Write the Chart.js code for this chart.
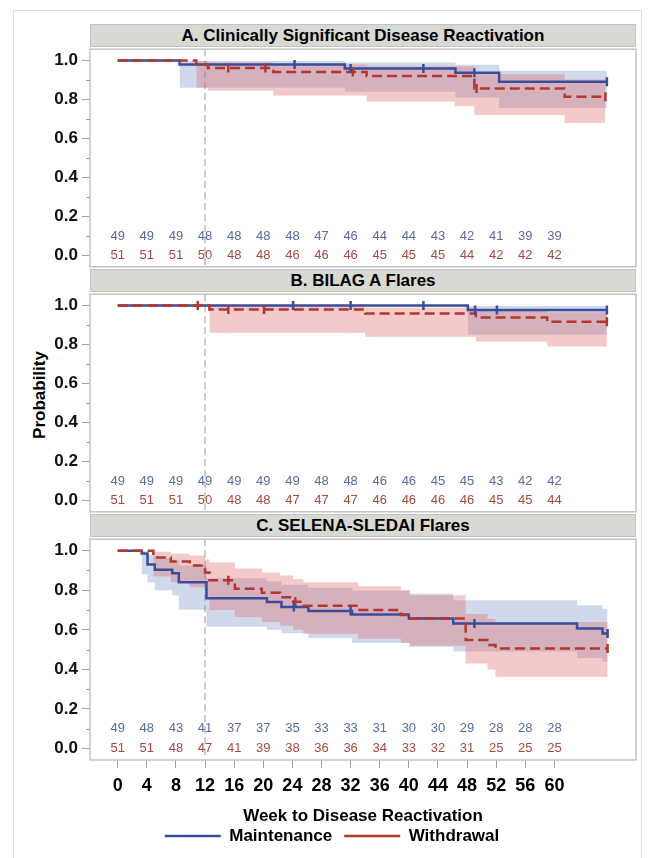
<!DOCTYPE html>
<html>
<head>
<meta charset="utf-8">
<script src="https://cdn.jsdelivr.net/npm/chart.js@4.4.1/dist/chart.umd.min.js"></script>
<style>
  body { margin: 0; background: #fff; font-family: "Liberation Sans", Arial, sans-serif; }
  #wrap { position: relative; width: 652px; height: 858px; overflow: hidden; }
  .frame { position: absolute; left: 13px; top: 10px; width: 627px; height: 870px; border: 1px solid #dedede; }
  .hdr { position: absolute; left: 90px; width: 546px; height: 23px; box-sizing: border-box;
         background: #d9d9d4; border: 1px solid #c2c2c2; font-weight: bold; font-size: 17px;
         line-height: 21px; text-align: center; color: #000; }
  #ylab { position: absolute; left: 40px; top: 395px; transform: translate(-50%, -50%) rotate(-90deg);
          font-weight: bold; font-size: 17px; white-space: nowrap; color: #000; }
  canvas { position: absolute; left: 0; }
</style>
</head>
<body>
<div id="wrap">
  <div class="frame"></div>
  <div class="hdr" style="top:24px">A. Clinically Significant Disease Reactivation</div>
  <div class="hdr" style="top:269px">B. BILAG A Flares</div>
  <div class="hdr" style="top:514px">C. SELENA-SLEDAI Flares</div>
  <div id="ylab">Probability</div>
  <canvas id="chartA" width="652" height="246" style="top:35px;width:652px;height:246px"></canvas>
  <canvas id="chartB" width="652" height="246" style="top:280px;width:652px;height:246px"></canvas>
  <canvas id="chartC" width="652" height="333" style="top:525px;width:652px;height:333px"></canvas>
</div>
<script>
// ---- shared axes ----
var weekTicks = [0, 4, 8, 12, 16, 20, 24, 28, 32, 36, 40, 44, 48, 52, 56, 60];
var probTicks = [0, 0.2, 0.4, 0.6, 0.8, 1.0];
var probMinorTicks = [0.1, 0.3, 0.5, 0.7, 0.9];
var refWeek = 12;

// ---- A. Clinically Significant Disease Reactivation ----
var aMaintT = [0, 8.5, 31.2, 46.4, 52.4, 67.2];
var aMaintS = [1, 0.980, 0.959, 0.937, 0.891, 0.891];
var aWithT  = [0, 10.8, 12.4, 21.4, 34.2, 49.0, 61.4, 67.0];
var aWithS  = [1, 0.980, 0.961, 0.941, 0.920, 0.857, 0.814, 0.814];
var aMaintBandT = [8.5, 31.2, 46.4, 52.4, 67.2];
var aMaintUpper = [0.997, 0.990, 0.978, 0.948, 0.948];
var aMaintLower = [0.860, 0.840, 0.810, 0.757, 0.757];
var aWithBandT  = [10.8, 12.4, 21.4, 34.2, 46.3, 49.0, 61.4, 67.0];
var aWithUpper  = [0.997, 0.990, 0.980, 0.970, 0.970, 0.930, 0.903, 0.903];
var aWithLower  = [0.860, 0.845, 0.820, 0.790, 0.765, 0.720, 0.680, 0.680];
var aMaintCensor = [[24.3, 0.980], [32.0, 0.959], [42.0, 0.959], [49.0, 0.937], [67.2, 0.891]];
var aWithCensor  = [[15.2, 0.961], [20.3, 0.961], [32.3, 0.941], [49.3, 0.857], [67.0, 0.814]];
var aMaintRisk = [49, 49, 49, 48, 48, 48, 48, 47, 46, 44, 44, 43, 42, 41, 39, 39];
var aWithRisk  = [51, 51, 51, 50, 48, 48, 46, 46, 46, 45, 45, 45, 44, 42, 42, 42];

// ---- B. BILAG A Flares ----
var bMaintT = [0, 48.1, 67.2];
var bMaintS = [1, 0.977, 0.977];
var bWithT  = [0, 12.6, 34.0, 49.2, 59.0, 67.2];
var bWithS  = [1, 0.980, 0.959, 0.938, 0.917, 0.917];
var bMaintBandT = [48.1, 67.2];
var bMaintUpper = [0.997, 0.997];
var bMaintLower = [0.850, 0.850];
var bWithBandT  = [12.6, 34.0, 49.2, 59.0, 67.2];
var bWithUpper  = [0.997, 0.990, 0.978, 0.965, 0.965];
var bWithLower  = [0.860, 0.840, 0.815, 0.790, 0.790];
var bMaintCensor = [[24.1, 1], [32.0, 1], [42.0, 1], [49.1, 0.977], [52.1, 0.977], [67.2, 0.977]];
var bWithCensor  = [[11.0, 1], [15.2, 0.980], [20.1, 0.980], [67.2, 0.917]];
var bMaintRisk = [49, 49, 49, 49, 49, 49, 49, 48, 48, 46, 46, 45, 45, 43, 42, 42];
var bWithRisk  = [51, 51, 51, 50, 48, 48, 47, 47, 47, 46, 46, 46, 46, 45, 45, 44];

// ---- C. SELENA-SLEDAI Flares ----
var cMaintT = [0, 3.3, 4.1, 5.1, 7.5, 8.4, 12.2, 20.5, 22.5, 26.2, 32.2, 40.0, 46.1, 63.1, 66.6, 67.3];
var cMaintS = [1, 0.986, 0.930, 0.903, 0.886, 0.841, 0.760, 0.740, 0.715, 0.695, 0.677, 0.657, 0.632, 0.607, 0.581, 0.581];
var cWithT  = [0, 4.9, 7.3, 9.9, 12.0, 12.6, 16.1, 19.8, 22.3, 24.1, 25.5, 33.0, 38.9, 40.2, 47.8, 50.8, 51.9, 67.3];
var cWithS  = [1, 0.965, 0.945, 0.925, 0.890, 0.850, 0.808, 0.787, 0.765, 0.742, 0.722, 0.700, 0.675, 0.657, 0.548, 0.523, 0.506, 0.506];
var cMaintBandT = [3.3, 4.1, 5.1, 7.5, 8.4, 12.2, 20.5, 22.5, 26.2, 32.2, 40.0, 46.1, 63.1, 66.6, 67.3];
var cMaintUpper = [0.998, 0.978, 0.962, 0.952, 0.925, 0.860, 0.845, 0.828, 0.812, 0.797, 0.782, 0.750, 0.724, 0.707, 0.707];
var cMaintLower = [0.880, 0.840, 0.800, 0.774, 0.702, 0.615, 0.600, 0.583, 0.558, 0.533, 0.514, 0.490, 0.457, 0.440, 0.440];
var cWithBandT  = [4.9, 7.3, 9.9, 12.0, 12.6, 16.1, 19.8, 22.3, 24.1, 25.5, 33.0, 38.9, 40.2, 47.8, 50.8, 51.9, 67.3];
var cWithUpper  = [0.995, 0.985, 0.975, 0.955, 0.940, 0.910, 0.890, 0.875, 0.855, 0.840, 0.820, 0.800, 0.775, 0.680, 0.655, 0.640, 0.640];
var cWithLower  = [0.870, 0.840, 0.815, 0.770, 0.700, 0.665, 0.640, 0.620, 0.600, 0.580, 0.555, 0.535, 0.520, 0.430, 0.400, 0.363, 0.363];
var cMaintCensor = [[24.2, 0.715], [32.0, 0.695], [49.0, 0.632], [67.3, 0.581]];
var cWithCensor  = [[15.2, 0.850], [24.4, 0.742], [67.3, 0.506]];
var cMaintRisk = [49, 48, 43, 41, 37, 37, 35, 33, 33, 31, 30, 30, 29, 28, 28, 28];
var cWithRisk  = [51, 51, 48, 47, 41, 39, 38, 36, 36, 34, 33, 32, 31, 25, 25, 25];

var FONT = '"Liberation Sans", Arial, sans-serif';
var BLUE = '#3a4d9c';
var RED = '#b3372c';
var BLUE_BAND = 'rgba(118, 140, 200, 0.34)';
var RED_BAND = 'rgba(222, 105, 105, 0.36)';
var BLUE_TEXT = '#5a6a9c';
var RED_TEXT = '#a44a3e';

function pts(t, s) {
    return t.map(function(x, i) { return { x: x, y: s[i] }; });
}
function pairPts(list) {
    return list.map(function(p) { return { x: p[0], y: p[1] }; });
}

// Plot box, short minor ticks on y, and the dashed week-12 reference line
var panelFrame = {
    id: 'panelFrame',
    beforeDatasetsDraw: function(chart) {
        var ctx = chart.ctx, a = chart.chartArea;
        var xp = chart.scales.x.getPixelForValue(refWeek);
        ctx.save();
        ctx.strokeStyle = '#ababab';
        ctx.lineWidth = 1.2;
        ctx.setLineDash([7, 4]);
        ctx.beginPath();
        ctx.moveTo(xp, a.top);
        ctx.lineTo(xp, a.bottom);
        ctx.stroke();
        ctx.restore();
    },
    afterDraw: function(chart) {
        var ctx = chart.ctx, a = chart.chartArea, y = chart.scales.y;
        ctx.save();
        ctx.strokeStyle = '#c4c4c4';
        ctx.lineWidth = 1.5;
        ctx.strokeRect(a.left, a.top, a.right - a.left, a.bottom - a.top);
        ctx.strokeStyle = '#a0a0a0';
        ctx.lineWidth = 1;
        probMinorTicks.forEach(function(v) {
            var yp = Math.round(y.getPixelForValue(v)) + 0.5;
            ctx.beginPath();
            ctx.moveTo(a.left - 4, yp);
            ctx.lineTo(a.left, yp);
            ctx.stroke();
        });
        ctx.restore();
    }
};

// Numbers at risk, written inside the plot at y = 0.1 and y = 0.0
var atRisk = {
    id: 'atRisk',
    afterDatasetsDraw: function(chart, args, opts) {
        var ctx = chart.ctx, x = chart.scales.x, y = chart.scales.y;
        ctx.save();
        ctx.font = '13px ' + FONT;
        ctx.textAlign = 'center';
        ctx.textBaseline = 'middle';
        (opts.rows || []).forEach(function(row) {
            ctx.fillStyle = row.color;
            row.values.forEach(function(v, i) {
                ctx.fillText(String(v), x.getPixelForValue(weekTicks[i]), y.getPixelForValue(row.level));
            });
        });
        ctx.restore();
    }
};

function buildPanel(canvasId, d, isLast) {
    var datasets = [
        { label: 'Maintenance', data: pts(d.mT, d.mS), stepped: 'before', borderColor: BLUE,
          borderWidth: 2.5, pointRadius: 0, fill: false, order: 2 },
        { label: 'Withdrawal', data: pts(d.wT, d.wS), stepped: 'before', borderColor: RED,
          borderWidth: 2.5, borderDash: [10, 5], pointRadius: 0, fill: false, order: 1 },
        { label: '', data: pairPts(d.mC), showLine: false, pointStyle: 'line', rotation: 90,
          pointRadius: 4.5, pointBorderWidth: 2.5, borderColor: BLUE, order: 0 },
        { label: '', data: pairPts(d.wC), showLine: false, pointStyle: 'line', rotation: 90,
          pointRadius: 4.5, pointBorderWidth: 2.5, borderColor: RED, order: 0 },
        { label: '', data: pts(d.mBT, d.mU), stepped: 'before', borderWidth: 0, pointRadius: 0,
          fill: '+1', backgroundColor: BLUE_BAND, order: 11 },
        { label: '', data: pts(d.mBT, d.mL), stepped: 'before', borderWidth: 0, pointRadius: 0,
          fill: false, order: 11 },
        { label: '', data: pts(d.wBT, d.wU), stepped: 'before', borderWidth: 0, pointRadius: 0,
          fill: '+1', backgroundColor: RED_BAND, order: 10 },
        { label: '', data: pts(d.wBT, d.wL), stepped: 'before', borderWidth: 0, pointRadius: 0,
          fill: false, order: 10 }
    ];

    var xScale = {
        type: 'linear',
        min: -3.8,
        max: 71.2,
        display: isLast,
        afterBuildTicks: function(s) { s.ticks = weekTicks.map(function(v) { return { value: v }; }); },
        border: { display: false },
        grid: { drawOnChartArea: false, drawTicks: true, tickLength: 8, color: '#a0a0a0' },
        ticks: {
            autoSkip: false, maxRotation: 0, padding: 7, color: '#000',
            font: { family: FONT, size: 18, weight: 'bold' },
            callback: function(v) { return String(v); }
        },
        title: {
            display: isLast,
            text: 'Week to Disease Reactivation',
            color: '#000',
            padding: { top: 0, bottom: -11 },
            font: { family: FONT, size: 17, weight: 'bold' }
        }
    };
    if (isLast) {
        xScale.afterFit = function(s) { s.height = 55.5; };
    }

    new Chart(document.getElementById(canvasId), {
        type: 'line',
        data: { datasets: datasets },
        options: {
            responsive: false,
            maintainAspectRatio: false,
            animation: false,
            devicePixelRatio: 1,
            layout: { padding: { left: 28, right: 16, top: 12, bottom: isLast ? 3.5 : 12 } },
            plugins: {
                tooltip: { enabled: false },
                legend: {
                    display: isLast,
                    position: 'bottom',
                    labels: {
                        filter: function(item) { return item.text === 'Maintenance' || item.text === 'Withdrawal'; },
                        sort: function(a, b) { return a.datasetIndex - b.datasetIndex; },
                        usePointStyle: true,
                        pointStyle: 'line',
                        pointStyleWidth: 56,
                        padding: 12,
                        color: '#000',
                        font: { family: FONT, size: 17, weight: 'bold' }
                    }
                },
                atRisk: {
                    rows: [
                        { values: d.mR, level: 0.1, color: BLUE_TEXT },
                        { values: d.wR, level: 0.0, color: RED_TEXT }
                    ]
                }
            },
            scales: {
                x: xScale,
                y: {
                    min: -0.058,
                    max: 1.058,
                    afterBuildTicks: function(s) { s.ticks = probTicks.map(function(v) { return { value: v }; }); },
                    afterFit: function(s) { s.width = 62; },
                    border: { display: false },
                    grid: { drawOnChartArea: false, drawTicks: true, tickLength: 8, color: '#a0a0a0' },
                    ticks: {
                        padding: 4, color: '#111',
                        font: { family: FONT, size: 17, weight: 'bold' },
                        callback: function(v) { return v.toFixed(1); }
                    }
                }
            }
        },
        plugins: [panelFrame, atRisk]
    });
}

buildPanel('chartA', {
    mT: aMaintT, mS: aMaintS, wT: aWithT, wS: aWithS,
    mBT: aMaintBandT, mU: aMaintUpper, mL: aMaintLower,
    wBT: aWithBandT, wU: aWithUpper, wL: aWithLower,
    mC: aMaintCensor, wC: aWithCensor, mR: aMaintRisk, wR: aWithRisk
}, false);
buildPanel('chartB', {
    mT: bMaintT, mS: bMaintS, wT: bWithT, wS: bWithS,
    mBT: bMaintBandT, mU: bMaintUpper, mL: bMaintLower,
    wBT: bWithBandT, wU: bWithUpper, wL: bWithLower,
    mC: bMaintCensor, wC: bWithCensor, mR: bMaintRisk, wR: bWithRisk
}, false);
buildPanel('chartC', {
    mT: cMaintT, mS: cMaintS, wT: cWithT, wS: cWithS,
    mBT: cMaintBandT, mU: cMaintUpper, mL: cMaintLower,
    wBT: cWithBandT, wU: cWithUpper, wL: cWithLower,
    mC: cMaintCensor, wC: cWithCensor, mR: cMaintRisk, wR: cWithRisk
}, true);
</script>
</body>
</html>
